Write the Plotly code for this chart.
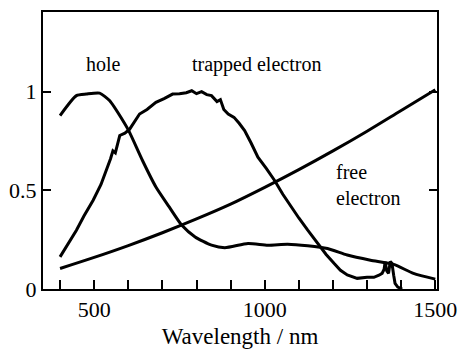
import plotly.graph_objects as go

# Hole spectrum
hole_wl = [400, 448, 477, 516, 545, 584, 602, 642, 681, 720, 757, 796, 844, 883,
           951, 1009, 1067, 1126, 1184, 1242, 1310, 1378, 1436, 1500]
hole_val = [0.879, 0.98, 0.988, 0.993, 0.955, 0.854, 0.80, 0.65, 0.517, 0.416,
            0.323, 0.264, 0.222, 0.209, 0.231, 0.222, 0.227, 0.219, 0.205, 0.172,
            0.146, 0.125, 0.079, 0.05]

# Trapped electron spectrum
trap_wl = [400, 420, 448, 470, 497, 520, 536, 548, 555, 562, 575, 590, 604, 620, 633,
           655, 681, 705, 730, 750, 770, 786, 800, 815, 830, 844, 860, 870, 880, 893,
           910, 925, 941, 960, 980, 1005, 1029, 1053, 1077, 1100, 1126, 1155, 1180,
           1203, 1222, 1242, 1271, 1300, 1320, 1335, 1344, 1350, 1353, 1358, 1363,
           1368, 1373, 1378, 1382, 1390, 1397, 1403]
trap_val = [0.163, 0.22, 0.298, 0.37, 0.45, 0.53, 0.60, 0.66, 0.70, 0.69, 0.778, 0.79,
            0.81, 0.85, 0.887, 0.91, 0.946, 0.965, 0.988, 0.99, 0.995, 1.005, 0.99,
            1.0, 0.985, 0.98, 0.95, 0.96, 0.91, 0.887, 0.87, 0.84, 0.803, 0.74, 0.668,
            0.61, 0.55, 0.48, 0.416, 0.36, 0.298, 0.231, 0.175, 0.13, 0.095, 0.071,
            0.054, 0.06, 0.059, 0.07, 0.079, 0.10, 0.138, 0.09, 0.079, 0.14, 0.13,
            0.07, 0.029, 0.01, 0.004, 0.0]

# Free electron spectrum
free_wl = [400, 500, 600, 700, 800, 900, 1000, 1100, 1200, 1300, 1400, 1500]
free_val = [0.104, 0.16, 0.22, 0.285, 0.355, 0.43, 0.515, 0.605, 0.70, 0.80, 0.905, 1.01]

x_tickvals = [400, 500, 600, 700, 800, 900, 1000, 1100, 1200, 1300, 1400, 1500]
x_ticktext = ["", "500", "", "", "", "", "1000", "", "", "", "", "1500"]
y_tickvals = [0, 0.5, 1]
y_ticktext = ["0", "0.5", "1"]

FONT = "Liberation Serif"

fig = go.Figure()
fig.add_trace(go.Scatter(x=hole_wl, y=hole_val, mode="lines",
                         line=dict(color="black", width=3, shape="spline", smoothing=0.6)))
fig.add_trace(go.Scatter(x=trap_wl, y=trap_val, mode="lines",
                         line=dict(color="black", width=3)))
fig.add_trace(go.Scatter(x=free_wl, y=free_val, mode="lines",
                         line=dict(color="black", width=3, shape="spline")))

fig.add_annotation(x=526, y=1.138, text="hole", showarrow=False,
                   font=dict(family=FONT, size=20, color="black"))
fig.add_annotation(x=975, y=1.138, text="trapped electron", showarrow=False,
                   font=dict(family=FONT, size=20, color="black"))
fig.add_annotation(x=1203, y=0.528, text="free<br>electron", showarrow=False,
                   xanchor="left", align="left",
                   font=dict(family=FONT, size=20, color="black"))

fig.update_layout(
    width=465, height=355,
    margin=dict(l=43, r=28, t=12, b=66),
    paper_bgcolor="white", plot_bgcolor="white",
    showlegend=False,
    xaxis=dict(range=[350, 1505], tickvals=x_tickvals, ticktext=x_ticktext,
               ticks="inside", ticklen=9, tickwidth=1.5, tickcolor="black",
               showline=True, linecolor="black", linewidth=2, mirror=True,
               showgrid=False, zeroline=False, automargin=False,
               title=dict(text="Wavelength / nm", font=dict(family=FONT, size=23, color="black"), standoff=6),
               tickfont=dict(family=FONT, size=22, color="black")),
    yaxis=dict(range=[0, 1.404], tickvals=y_tickvals, ticktext=y_ticktext,
               ticks="inside", ticklen=8, tickwidth=1.5, tickcolor="black",
               showline=True, linecolor="black", linewidth=2, mirror="ticks",
               showgrid=False, zeroline=False, automargin=False,
               tickfont=dict(family=FONT, size=22, color="black")),
)

fig.write_html("out.html")
